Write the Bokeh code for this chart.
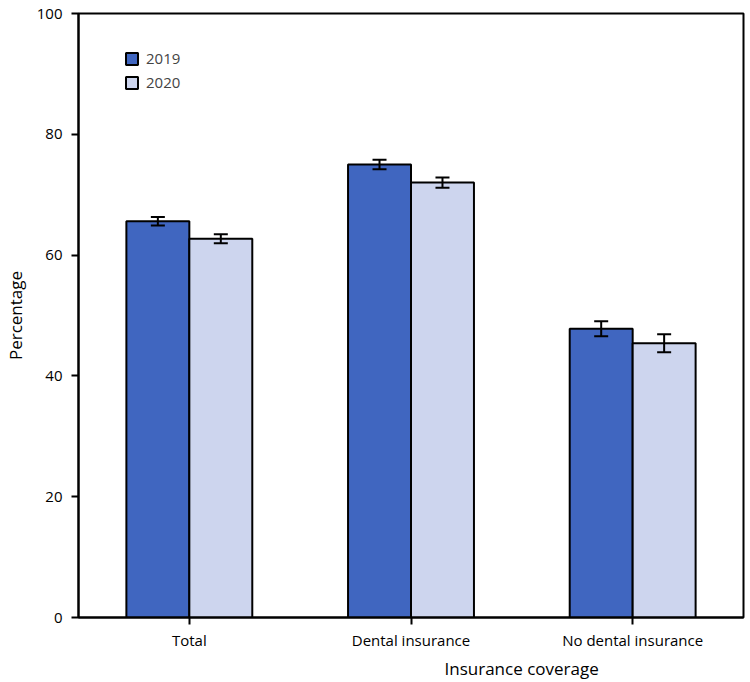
from bokeh.plotting import figure
from bokeh.models import ColumnDataSource, FactorRange, Range1d, FixedTicker, Whisker, TeeHead, Title
from bokeh.transform import dodge
from bokeh.embed import file_html
from bokeh.resources import INLINE

categories = ["Total", "Dental insurance", "No dental insurance"]
years = ["2019", "2020"]
pct_2019 = [65.6, 75.0, 47.8]
err_2019 = [0.7, 0.8, 1.25]
pct_2020 = [62.7, 72.0, 45.4]
err_2020 = [0.75, 0.85, 1.5]
y_ticks = [0, 20, 40, 60, 80, 100]

FONT = "Open Sans"
C2019 = "#4066c0"
C2020 = "#cdd5ee"

src = ColumnDataSource(dict(
    cat=categories,
    v19=pct_2019, v20=pct_2020,
    up19=[v + e for v, e in zip(pct_2019, err_2019)],
    lo19=[v - e for v, e in zip(pct_2019, err_2019)],
    up20=[v + e for v, e in zip(pct_2020, err_2020)],
    lo20=[v - e for v, e in zip(pct_2020, err_2020)],
))

p = figure(x_range=FactorRange(*categories, range_padding=0), y_range=Range1d(0, 100),
           frame_width=665, frame_height=604, width=741, height=680,
           min_border_left=74, min_border_top=13, min_border_right=2, min_border_bottom=63,
           output_backend="svg", toolbar_location=None)

bw = 0.284
off = 0.142
p.vbar(x=dodge("cat", -off, range=p.x_range), top="v19", width=bw, source=src,
       fill_color=C2019, line_color="black", line_width=2, legend_label=years[0])
p.vbar(x=dodge("cat", off, range=p.x_range), top="v20", width=bw, source=src,
       fill_color=C2020, line_color="black", line_width=2, legend_label=years[1])

for xo, up, lo in [(-off, "up19", "lo19"), (off, "up20", "lo20")]:
    w = Whisker(base=dodge("cat", xo, range=p.x_range), upper=up, lower=lo, source=src,
                line_color="black", line_width=2, level="overlay",
                upper_head=TeeHead(size=14, line_color="black", line_width=2),
                lower_head=TeeHead(size=14, line_color="black", line_width=2))
    p.add_layout(w)

p.xgrid.visible = False
p.ygrid.visible = False
p.outline_line_color = "black"
p.outline_line_width = 2
p.outline_line_alpha = 1

for ax in (p.xaxis, p.yaxis):
    ax.axis_line_width = 2
    ax.major_tick_line_width = 2
    ax.major_tick_out = 7
    ax.major_tick_in = 0
    ax.minor_tick_line_color = None
    ax.major_label_text_font = FONT
    ax.major_label_text_font_size = "15px"
    ax.major_label_text_color = "black"
    ax.axis_label_text_font = FONT
    ax.axis_label_text_font_style = "normal"
    ax.axis_label_text_color = "black"

p.yaxis.ticker = FixedTicker(ticks=y_ticks)
p.yaxis.axis_label = "Percentage"
p.yaxis.axis_label_text_font_size = "17px"
p.yaxis.major_label_standoff = 9
p.yaxis.axis_label_standoff = 7
p.xaxis.major_label_standoff = 5

xt = Title(text="Insurance coverage", align="left", offset=366, standoff=4,
           text_font=FONT, text_font_size="17px", text_font_style="normal",
           text_color="black")
p.add_layout(xt, "below")

lg = p.legend[0]
lg.location = (46, 525)
lg.glyph_width = 15
lg.glyph_height = 15
lg.label_height = 15
lg.spacing = 4
lg.padding = 0
lg.margin = 0
lg.label_standoff = 7
lg.label_text_font = FONT
lg.label_text_font_size = "15px"
lg.border_line_alpha = 0
lg.background_fill_alpha = 0

open("out.html", "w").write(file_html(p, INLINE))
